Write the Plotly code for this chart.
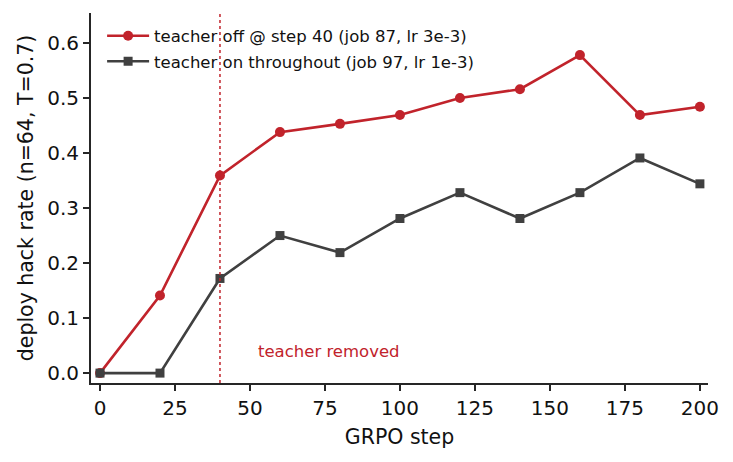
import plotly.graph_objects as go

steps = [0, 20, 40, 60, 80, 100, 120, 140, 160, 180, 200]
teacher_off = [0.0, 0.141, 0.359, 0.438, 0.453, 0.469, 0.500, 0.516, 0.578, 0.469, 0.484]
teacher_on = [0.0, 0.0, 0.172, 0.250, 0.219, 0.281, 0.328, 0.281, 0.328, 0.391, 0.344]
switch_step = 40

RED = "#c1232b"
GRAY = "#404040"

fig = go.Figure()
fig.add_trace(go.Scatter(
    x=steps, y=teacher_off, mode="lines+markers",
    name="teacher off @ step 40 (job 87, lr 3e-3)", legendgroup="off",
    line=dict(color=RED, width=2.6),
    marker=dict(symbol="circle", size=10, color=RED),
))
fig.add_trace(go.Scatter(
    x=steps, y=teacher_on, mode="lines+markers",
    name="teacher on throughout (job 97, lr 1e-3)", legendgroup="on",
    line=dict(color=GRAY, width=2.6),
    marker=dict(symbol="square", size=9, color=GRAY),
))

# vertical marker where the teacher is switched off
fig.add_shape(type="line", xref="x", yref="paper",
              x0=switch_step, x1=switch_step, y0=0, y1=1,
              line=dict(color=RED, width=1.5, dash="dot"))
fig.add_annotation(x=52, y=0.04, xref="x", yref="y", text="teacher removed",
                   showarrow=False, xanchor="left", yanchor="middle",
                   font=dict(color=RED, size=16.5))

axis_common = dict(
    showline=True, linecolor="#262626", linewidth=1.8, mirror=False,
    ticks="outside", ticklen=6, tickwidth=1.6, tickcolor="#262626",
    showgrid=False, zeroline=False,
    tickfont=dict(size=20, color="#111"),
    title_font=dict(size=20.5, color="#111"),
)

# page body adds an 8px offset, margins are shifted to compensate
fig.update_layout(
    width=733, height=462,
    paper_bgcolor="white", plot_bgcolor="white",
    font=dict(family="DejaVu Sans"),
    margin=dict(l=83, r=33, t=5, b=87),
    showlegend=True,
    legend=dict(x=0.018, y=0.985, xanchor="left", yanchor="top",
                bgcolor="rgba(255,255,255,0)", font=dict(size=16.5, color="#111"),
                tracegroupgap=1, itemwidth=42),
    xaxis=dict(title=dict(text="GRPO step", standoff=11), range=[-3, 202.7],
               tickvals=[0, 25, 50, 75, 100, 125, 150, 175, 200], **axis_common),
    yaxis=dict(title=dict(text="deploy hack rate (n=64, T=0.7)", standoff=8),
               range=[-0.018, 0.6545], tickformat=".1f",
               tickvals=[0, 0.1, 0.2, 0.3, 0.4, 0.5, 0.6], **axis_common),
)

fig.write_html("out.html")
